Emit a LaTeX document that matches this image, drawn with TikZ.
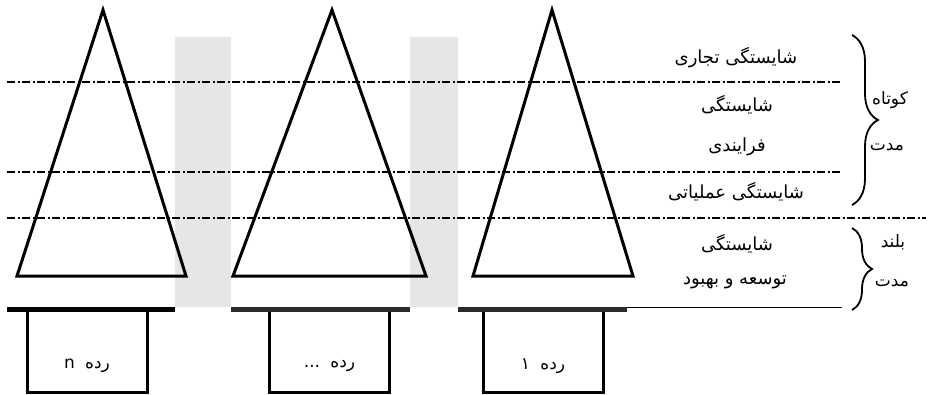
\documentclass[tikz,border=0pt]{standalone}
\usepackage{fontspec}
\usetikzlibrary{decorations.pathreplacing}
\newfontfamily\arabicfont[Script=Arabic]{DejaVu Sans}
\TeXXeTstate=1
\definecolor{bandgray}{HTML}{E6E6E6}
\definecolor{darkline}{HTML}{2A2A2A}
\begin{document}
\begin{tikzpicture}[x=1pt,y=-1pt,
  tri/.style={draw=black,line width=3pt,line join=miter},
  band/.style={fill=bandgray,draw=none},
  level/.style={line width=1.6pt,dash pattern=on 8pt off 2.5pt on 2pt off 2.5pt},
  baseline/.style={line width=4.5pt},
  rowbox/.style={draw=black,line width=3pt,minimum width=120pt,minimum height=83pt,inner sep=0pt},
  fa/.style={font=\arabicfont\fontsize{18}{20}\selectfont,inner sep=0pt},
  boxlbl/.style={font=\arabicfont\fontsize{17}{19}\selectfont,inner sep=0pt},
  bracelbl/.style={font=\arabicfont\fontsize{17}{19}\selectfont,inner sep=0pt},
  br/.style={decorate,line width=1.8pt}
]
\useasboundingbox (0,0) rectangle (928,394);
% gray bands
\fill[band] (175,37) rectangle (231,307);
\fill[band] (410,37) rectangle (458,307);
% level lines
\draw[level] (7,82) -- (842,82);
\draw[level] (7,172) -- (842,172);
\draw[level] (7,218) -- (926,218);
% triangles
\draw[tri] (103,10) -- (186,276) -- (17,276) -- cycle;
\draw[tri] (332,10) -- (426,276) -- (233,276) -- cycle;
\draw[tri] (552,10) -- (633,276) -- (473,276) -- cycle;
% boxes
\node[rowbox] (rn) at (87,350.5) {};
\node[rowbox] (rd) at (329.5,350.5) {};
\node[rowbox] (r1) at (543,350.5) {};
\node[boxlbl] (rnt) at (87,366) {\beginR رده\hspace{5pt} n\endR};
\node[boxlbl] (rdt) at (329.5,366) {\beginR رده\hspace{5pt} ...\endR};
\node[boxlbl] (r1t) at (543,366) {\beginR رده\hspace{5pt} ۱\endR};
% base line
\draw[baseline,black] (7,309.5) -- (175,309.5);
\draw[baseline,darkline] (231,309.5) -- (410,309.5);
\draw[baseline,darkline] (458,309.5) -- (627,309.5);
\draw[line width=1.8pt] (627,307.5) -- (842,307.5);
% level texts
\node[fa] (t1) at (736,58) {\beginR شایستگی تجاری\endR};
\node[fa] (t2) at (737,105) {\beginR شایستگی\endR};
\node[fa] (t3) at (737,147) {\beginR فرایندی\endR};
\node[fa] (t4) at (736,192) {\beginR شایستگی عملیاتی\endR};
\node[fa] (t5) at (737,244) {\beginR شایستگی\endR};
\node[fa] (t6) at (735,282) {\beginR توسعه و بهبود\endR};
% braces
\coordinate (b1a) at (852,35);
\coordinate (b1b) at (852,205);
\coordinate (b2a) at (852,228);
\coordinate (b2b) at (852,310);
\draw[br,decoration={brace,amplitude=26pt}] (b1a) -- (b1b);
\draw[br,decoration={brace,amplitude=20pt}] (b2a) -- (b2b);
\node[bracelbl] (k1) at (890,100) {\beginR کوتاه\endR};
\node[bracelbl] (k2) at (887,147) {\beginR مدت\endR};
\node[bracelbl] (k3) at (893,242) {\beginR بلند\endR};
\node[bracelbl] (k4) at (892,283) {\beginR مدت\endR};
\end{tikzpicture}
\end{document}
